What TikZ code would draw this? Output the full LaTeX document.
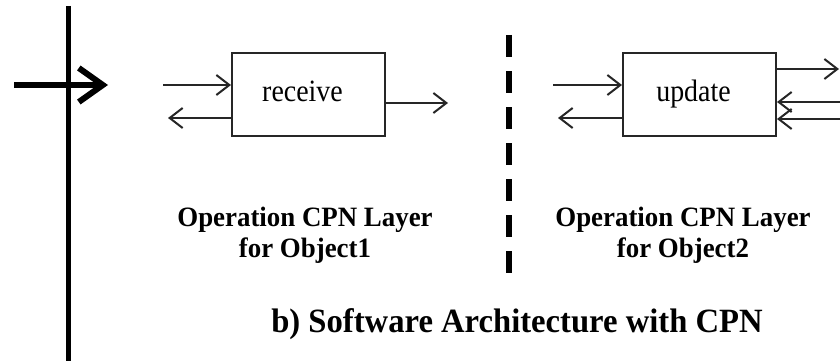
\documentclass[tikz,border=0pt]{standalone}
\usepackage{fontspec}
\setmainfont{Liberation Serif}
\newfontfamily\boxfont[FakeStretch=0.9]{Liberation Serif}
\newfontfamily\capfont[FakeStretch=0.96]{Liberation Serif}
\usetikzlibrary{arrows.meta}
\begin{document}
\begin{tikzpicture}[x=1pt,y=-1pt,
  proc/.style={draw=black!85,line width=2pt,minimum width=153pt,minimum height=82pt,
    inner sep=0pt,text height=21pt,text depth=7pt,
    font=\boxfont\fontsize{31}{34}\selectfont},
  flow/.style={draw=black!85,line width=2pt,
    -{Straight Barb[length=13pt 0,width=20pt 0]}},
  bigflow/.style={draw=black,line width=6pt,
    -{Straight Barb[length=24pt 0,width=34pt 0]}},
  layertext/.style={align=center,anchor=base,
    font=\capfont\bfseries\fontsize{28}{31}\selectfont},
  titletext/.style={anchor=base,font=\capfont\bfseries\fontsize{34}{38}\selectfont}]
\useasboundingbox (0,0) rectangle (840,361);

% main vertical line with the entry arrow
\coordinate (vtop) at (68,6);
\coordinate (vbot) at (68,365);
\draw[line width=5pt] (vtop) -- (vbot);
\coordinate (ein) at (14,85);
\coordinate (eout) at (108,85);
\draw[bigflow] (ein) -- (eout);

% separator between the two object layers
\coordinate (stop) at (509,35);
\coordinate (sbot) at (509,273);
\draw[line width=6pt,dash pattern=on 22pt off 14pt] (stop) -- (sbot);

% process boxes (labels sit a little left of centre)
\node[proc] (recv) at (308.5,94.5) {\hspace*{-12pt}receive};
\node[proc] (upd) at (699.5,94.5) {\hspace*{-12pt}update};

% receive connections
\coordinate (r1) at (163,85);
\coordinate (r2) at (168,118);
\coordinate (r3) at (448,103);
\draw[flow] (r1) -- (recv.west |- r1);
\draw[flow] (recv.west |- r2) -- (r2);
\draw[flow] (recv.east |- r3) -- (r3);

% update connections
\coordinate (u1) at (553,85);
\coordinate (u2) at (558,118);
\coordinate (u3) at (839,69);
\coordinate (u4) at (842,102);
\coordinate (u5) at (842,119);
\draw[flow] (u1) -- (upd.west |- u1);
\draw[flow] (upd.west |- u2) -- (u2);
\draw[flow] (upd.east |- u3) -- (u3);
\draw[flow] (u4) -- (upd.east |- u4);
\draw[flow] (u5) -- (upd.east |- u5);

% captions (base anchor is the baseline of the last line)
\node[layertext] (cap1) at (305,257) {Operation CPN Layer\\for Object1};
\node[layertext] (cap2) at (683,257) {Operation CPN Layer\\for Object2};
\node[titletext] (title) at (517,332) {b) Software Architecture with CPN};
\end{tikzpicture}
\end{document}
